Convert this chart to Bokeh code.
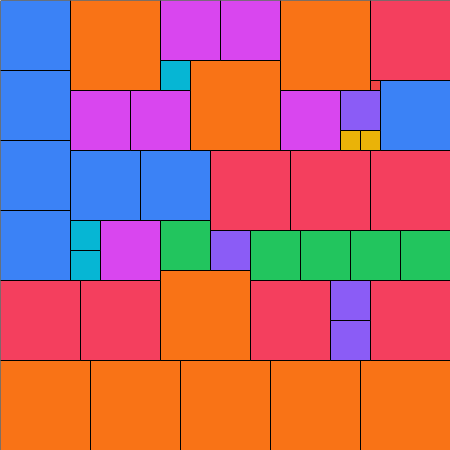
from bokeh.plotting import figure
from bokeh.models import ColumnDataSource, Range1d
from bokeh.embed import file_html
from bokeh.resources import INLINE

# Square tiles: group, left, top, side (in layout units, 450 x 450 canvas)
groups = (["blue"] * 7 + ["orange"] * 9 + ["magenta"] * 6 + ["cyan"] * 3 +
          ["rose"] * 8 + ["red"] + ["purple"] * 4 + ["yellow"] * 2 + ["green"] * 5)
lefts = [0, 0, 0, 0, 70, 140, 380,
         70, 190, 280, 160, 0, 90, 180, 270, 360,
         160, 220, 70, 130, 280, 100,
         160, 70, 70,
         370, 210, 290, 370, 0, 80, 250, 370,
         370,
         340, 210, 330, 330,
         340, 360,
         160, 250, 300, 350, 400]
tops = [0, 70, 140, 210, 150, 150, 80,
        0, 60, 0, 270, 360, 360, 360, 360, 360,
        0, 0, 90, 90, 90, 220,
        60, 220, 250,
        0, 150, 150, 150, 280, 280, 280, 280,
        80,
        90, 230, 280, 320,
        130, 130,
        220, 230, 230, 230, 230]
sides = ([70] * 7 + [90] * 9 + [60] * 6 + [30] * 3 + [80] * 8 + [10] +
         [40] * 4 + [20] * 2 + [50] * 5)

palette = {
    "blue": "#3b82f6", "orange": "#f97316", "magenta": "#d946ef",
    "cyan": "#06b6d4", "rose": "#f43f5e", "red": "#ef4444",
    "purple": "#8b5cf6", "yellow": "#eab308", "green": "#22c55e",
}

src = ColumnDataSource(dict(
    left=lefts,
    right=[l + s for l, s in zip(lefts, sides)],
    top=tops,
    bottom=[t + s for t, s in zip(tops, sides)],
    color=[palette[g] for g in groups],
))

p = figure(width=450, height=450, output_backend="svg", toolbar_location=None,
           x_range=Range1d(0, 450), y_range=Range1d(450, 0),
           min_border=0, outline_line_color=None)
p.axis.visible = False
p.grid.visible = False
p.background_fill_color = "white"
p.border_fill_color = "white"

p.quad(left="left", right="right", top="top", bottom="bottom", source=src,
       fill_color="color", line_color="black", line_width=1)

open("out.html", "w").write(file_html(p, INLINE))
